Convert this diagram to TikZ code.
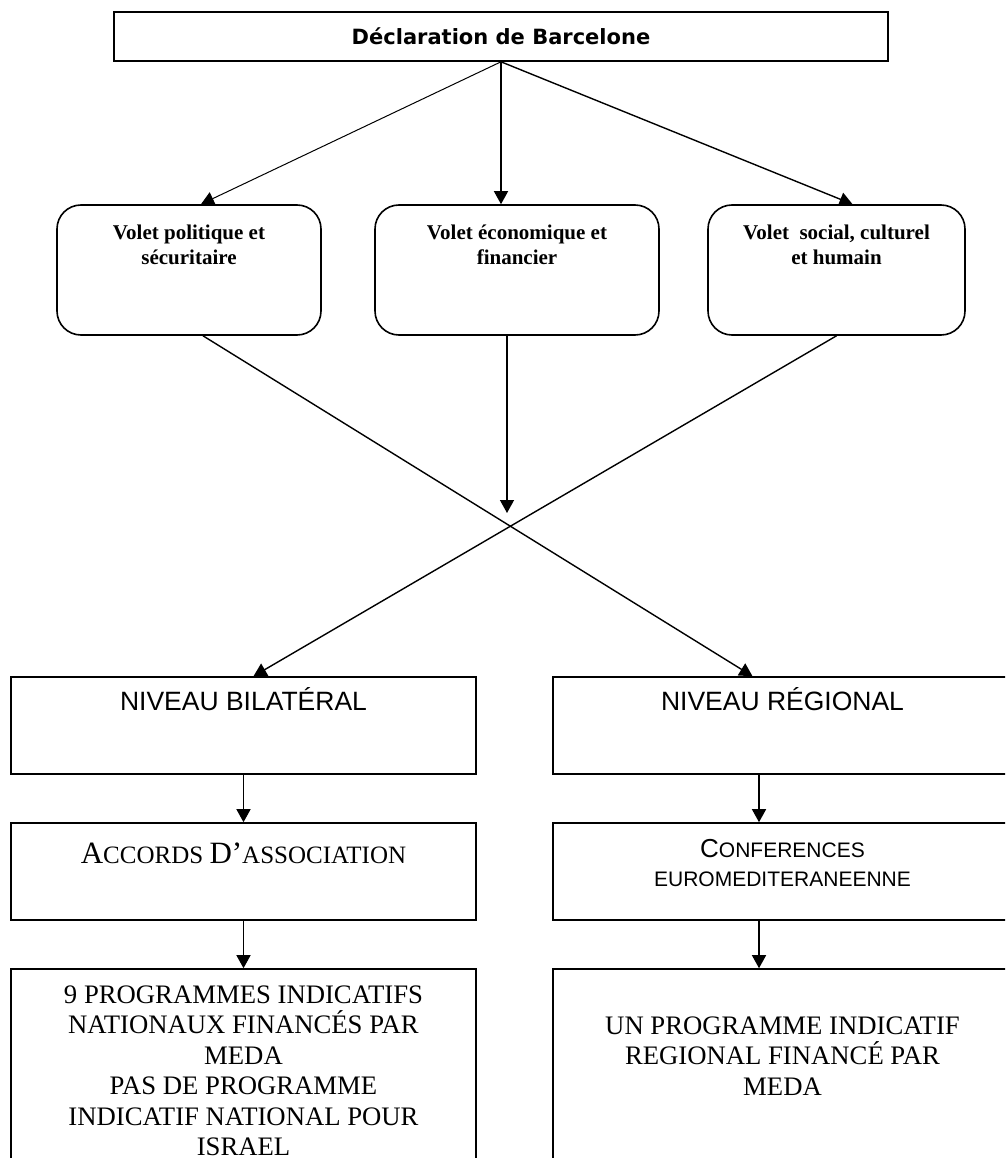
\documentclass[tikz,border=0pt]{standalone}
\usepackage{fontspec}
\setmainfont{Liberation Serif}
\newfontfamily\arialfont{Liberation Sans}
\newfontfamily\verdfont{DejaVu Sans}
\usetikzlibrary{arrows.meta,positioning}

% fake small caps (big initial, smaller capitals)
\newcommand{\scbig}[1]{{\fontsize{31pt}{36pt}\selectfont #1}}
\newcommand{\scsmall}[1]{{\fontsize{25pt}{29pt}\selectfont #1}}

\begin{document}
\begin{tikzpicture}[
  x=1pt, y=-1pt,
  box/.style={draw, line width=1.6pt, inner sep=0pt},
  volet/.style={draw, line width=1.6pt, rounded corners=24pt, minimum height=130pt, inner sep=0pt},
  vtxt/.style={align=center, inner sep=0pt, font=\bfseries\fontsize{21pt}{25pt}\selectfont},
  ntxt/.style={inner sep=0pt, font=\arialfont\fontsize{26.5pt}{31pt}\selectfont},
  ctxt/.style={align=center, inner sep=0pt, font=\arialfont\fontsize{21pt}{29pt}\selectfont},
  ptxt/.style={align=center, inner sep=0pt, font=\fontsize{26.7pt}{30.5pt}\selectfont},
  link/.style={line width=1.4pt, -{Triangle[length=13pt, width=14pt]}}
]
\useasboundingbox (0,0) rectangle (1005,1158);
\clip (0,0) rectangle (1005,1158);

% top
\node[box, minimum width=774pt, minimum height=49pt,
      font=\verdfont\bfseries\fontsize{21pt}{25pt}\selectfont] (decl) at (501,36.5) {Déclaration de Barcelone};

% the three volets
\node[volet, minimum width=264pt] (vpol) at (189,270) {};
\node[volet, minimum width=284pt] (vecon) at (517,270) {};
\node[volet, minimum width=257pt] (vsoc) at (836.5,270) {};
\node[vtxt, below=21pt of vpol.north] (tpol) {Volet politique et\\sécuritaire};
\node[vtxt, below=21pt of vecon.north] (tecon) {Volet économique et\\financier};
\node[vtxt, below=21pt of vsoc.north] (tsoc) {Volet~~social, culturel\\et humain};

% levels
\node[box, minimum width=465pt, minimum height=97pt] (bil) at (243.5,725.5) {};
\node[box, minimum width=459pt, minimum height=97pt] (reg) at (782.5,725.5) {};
\node[box, minimum width=465pt, minimum height=97pt] (acc) at (243.5,871.5) {};
\node[box, minimum width=459pt, minimum height=97pt] (conf) at (782.5,871.5) {};
\node[box, minimum width=465pt, minimum height=221pt] (pin) at (243.5,1079.5) {};
\node[box, minimum width=459pt, minimum height=221pt] (pir) at (782.5,1079.5) {};

\node[ntxt, anchor=base] (tbil) at ([yshift=-34pt]bil.north) {NIVEAU BILATÉRAL};
\node[ntxt, anchor=base] (treg) at ([yshift=-34pt]reg.north) {NIVEAU RÉGIONAL};
\node[inner sep=0pt, anchor=base] (tacc) at ([yshift=-41pt]acc.north)
  {\scbig{A}\scsmall{CCORDS }\scbig{D’}\scsmall{ASSOCIATION}};
\node[ctxt, below=17pt of conf.north] (tconf)
  {{\fontsize{26pt}{31pt}\selectfont C}ONFERENCES\\EUROMEDITERANEENNE};
\node[ptxt, below=17pt of pin.north] (tpin)
  {9 PROGRAMMES INDICATIFS\\NATIONAUX FINANCÉS PAR\\MEDA\\PAS DE PROGRAMME\\INDICATIF NATIONAL POUR\\ISRAEL};
\node[ptxt, below=48pt of pir.north] (tpir)
  {UN PROGRAMME INDICATIF\\REGIONAL FINANCÉ PAR\\MEDA};

% arrows
\draw[link, line width=1pt] (decl.south) -- ([xshift=12pt]vpol.north);
\draw[link] (decl.south) -- ([xshift=-16pt]vecon.north);
\draw[link] (decl.south) -- ([xshift=16pt]vsoc.north);

\coordinate (mid) at (507,513);
\draw[link] ([xshift=14pt]vpol.south) -- ([xshift=-30pt]reg.north);
\draw[link] (vsoc.south) -- ([xshift=10pt]bil.north);
\draw[link] ([xshift=-10pt]vecon.south) -- (mid);

\draw[link] (bil) -- (acc);
\draw[link] (acc) -- (pin);
\draw[link] ([xshift=-23.5pt]reg.south) -- ([xshift=-23.5pt]conf.north);
\draw[link] ([xshift=-23.5pt]conf.south) -- ([xshift=-23.5pt]pir.north);
\end{tikzpicture}
\end{document}
